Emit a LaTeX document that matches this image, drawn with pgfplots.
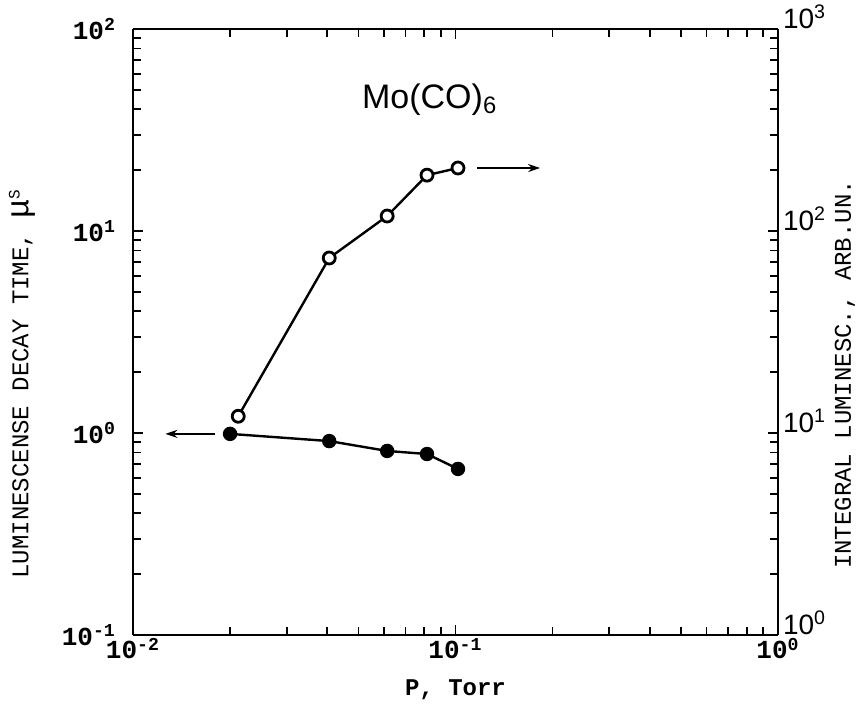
\documentclass[border=0pt]{standalone}
\usepackage{pgfplots}
\pgfplotsset{compat=1.18}
\usetikzlibrary{arrows.meta}
\usepackage{fontspec}
\setmainfont{Liberation Mono}
\newfontfamily\sansf{Liberation Sans}

\begin{document}
\begin{tikzpicture}
\path[use as bounding box] (-66.5pt,-35.5pt) rectangle (362pt,317.5pt);
% left axis: decay time
\begin{axis}[
    scale only axis,
    width=322.5pt, height=303pt,
    xmode=log, ymode=log,
    xmin=0.01, xmax=1,
    ymin=0.1, ymax=100,
    axis y line*=left,
    axis line style={line width=1pt},
    tick style={line width=0.9pt, black},
    major tick length=5pt, minor tick length=4pt,
    log number format basis/.code 2 args={#1\textsuperscript{\pgfmathprintnumber[assume math mode=true]{#2}}},
    ticklabel style={font=\bfseries\fontsize{13}{15}\selectfont},
    yticklabel style={xshift=-5pt},
    xticklabel style={yshift=2pt},
    xlabel={P, Torr},
    xlabel style={font=\bfseries\fontsize{12}{14}\selectfont, at={(axis description cs:0.5,-0.09)}, anchor=center},
    ylabel={LUMINESCENSE DECAY TIME, {\fontsize{16}{16}\selectfont μ}\textsuperscript{S}},
    ylabel style={font=\fontsize{12}{14}\selectfont, at={(axis description cs:-0.172,0.415)}, anchor=center, rotate=0},
    clip=false,
]
% filled circles (left axis)
\addplot[black, line width=1.2pt, mark=*, mark size=3pt]
    coordinates {
        (0.0200,0.990)
        (0.0406,0.912)
        (0.0614,0.815)
        (0.0816,0.787)
        (0.1018,0.664)
    };
\draw[-{Stealth[length=6pt,width=4pt]}, line width=1.1pt] (axis cs:0.0179,0.99) -- (axis cs:0.0126,0.99);
\node at (rel axis cs:0.46,0.883) {\sansf\fontsize{17}{20}\selectfont Mo(CO)\textsubscript{6}};
\end{axis}
% right axis: integral luminescence
\begin{axis}[
    scale only axis,
    width=322.5pt, height=303pt,
    xmode=log, ymode=log,
    xmin=0.01, xmax=1,
    ymin=1, ymax=1000,
    axis y line*=right,
    axis x line=none,
    axis line style={line width=1pt},
    tick style={line width=0.9pt, black},
    major tick length=5pt, minor tick length=4pt,
    log number format basis/.code 2 args={#1\textsuperscript{\pgfmathprintnumber[assume math mode=true]{#2}}},
    yticklabel style={font=\sansf\fontsize{14}{16}\selectfont, xshift=-1pt, yshift=6pt},
    ylabel={INTEGRAL LUMINESC., ARB.UN.},
    ylabel style={font=\fontsize{12}{14}\selectfont, at={(axis description cs:1.104,0.43)}, anchor=center, rotate=0},
    clip=false,
]
% open circles (right axis)
\addplot[black, line width=1.2pt, mark=*, mark size=3pt, mark options={fill=white, line width=1.4pt}]
    coordinates {
        (0.0212,12.1)
        (0.0406,73.5)
        (0.0614,118.6)
        (0.0816,189)
        (0.1018,205)
    };
\draw[-{Stealth[length=6pt,width=4pt]}, line width=1.1pt] (axis cs:0.1167,205) -- (axis cs:0.183,205);
\end{axis}
\end{tikzpicture}
\end{document}
